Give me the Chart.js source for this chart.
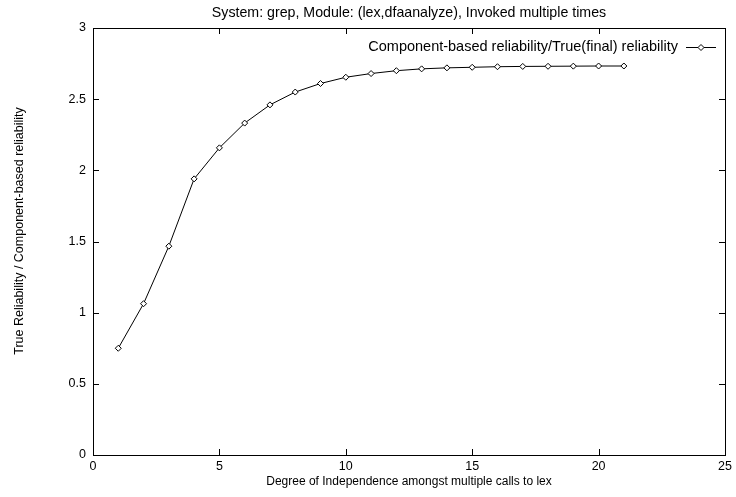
<!DOCTYPE html>
<html>
<head>
<meta charset="utf-8">
<script src="https://cdn.jsdelivr.net/npm/chart.js@4/dist/chart.umd.min.js"></script>
<style>
  html, body { margin: 0; padding: 0; background: #fff; }
  #wrap { width: 736px; height: 497px; }
</style>
</head>
<body>
<div id="wrap"><canvas id="chart"></canvas></div>
<script>
// values
const degrees = [1, 2, 3, 4, 5, 6, 7, 8, 9, 10, 11, 12, 13, 14, 15, 16, 17, 18, 19, 20, 21];
const ratios = [0.75, 1.063, 1.467, 1.94, 2.158, 2.332, 2.46, 2.55, 2.61, 2.654, 2.68,
  2.70, 2.713, 2.72, 2.724, 2.728, 2.73, 2.731, 2.732, 2.733, 2.733];
const xTicks = [0, 5, 10, 15, 20, 25];
const yTicks = [0, 0.5, 1, 1.5, 2, 2.5, 3];

const chartTitle = "System: grep, Module: (lex,dfaanalyze), Invoked multiple times";
const seriesLabel = "Component-based reliability/True(final) reliability";
const xLabel = "Degree of Independence amongst multiple calls to lex";
const yLabel = "True Reliability / Component-based reliability";

const FONT = "'Liberation Sans', Arial, Helvetica, sans-serif";

// gnuplot-style frame, inward mirrored ticks, title, y label and key
const framePlugin = {
  id: "frame",
  afterDraw(chart) {
    const { ctx, chartArea: a, scales } = chart;
    const tl = 6;
    ctx.save();
    ctx.strokeStyle = "#000";
    ctx.lineWidth = 1;
    ctx.strokeRect(a.left + 0.5, a.top + 0.5, a.right - a.left, a.bottom - a.top);
    ctx.beginPath();
    xTicks.forEach((v) => {
      const px = Math.round(scales.x.getPixelForValue(v)) + 0.5;
      ctx.moveTo(px, a.bottom);
      ctx.lineTo(px, a.bottom - tl);
      ctx.moveTo(px, a.top);
      ctx.lineTo(px, a.top + tl);
    });
    yTicks.forEach((v) => {
      const py = Math.round(scales.y.getPixelForValue(v)) + 0.5;
      ctx.moveTo(a.left, py);
      ctx.lineTo(a.left + tl, py);
      ctx.moveTo(a.right, py);
      ctx.lineTo(a.right - tl, py);
    });
    ctx.stroke();

    ctx.fillStyle = "#000";
    ctx.textBaseline = "middle";

    ctx.font = "14.2px " + FONT;
    ctx.textAlign = "center";
    ctx.fillText(chartTitle, (a.left + a.right) / 2, 13);

    // y axis label
    ctx.save();
    ctx.translate(20, 231);
    ctx.rotate(-Math.PI / 2);
    ctx.font = "12.5px " + FONT;
    ctx.fillText(yLabel, 0, 0);
    ctx.restore();

    // key
    const ky = 47;
    ctx.font = "14.5px " + FONT;
    ctx.textAlign = "right";
    ctx.fillText(seriesLabel, 678, ky);
    ctx.beginPath();
    ctx.moveTo(686, ky + 0.5);
    ctx.lineTo(716, ky + 0.5);
    ctx.stroke();
    const cx = 701, r = 3;
    ctx.beginPath();
    ctx.moveTo(cx, ky - r + 0.5);
    ctx.lineTo(cx + r, ky + 0.5);
    ctx.lineTo(cx, ky + r + 0.5);
    ctx.lineTo(cx - r, ky + 0.5);
    ctx.closePath();
    ctx.fillStyle = "#fff";
    ctx.fill();
    ctx.stroke();
    ctx.restore();
  },
};

new Chart(document.getElementById("chart"), {
  type: "line",
  data: {
    datasets: [
      {
        label: seriesLabel,
        data: degrees.map((d, i) => ({ x: d, y: ratios[i] })),
        borderColor: "#000",
        borderWidth: 1,
        backgroundColor: "#fff",
        pointStyle: "rectRot",
        pointRadius: 3,
        pointBorderWidth: 1,
        pointBorderColor: "#000",
        pointBackgroundColor: "#fff",
        tension: 0,
        fill: false,
      },
    ],
  },
  options: {
    responsive: true,
    maintainAspectRatio: false,
    animation: false,
    layout: { padding: { top: 28, right: 11, left: 0, bottom: 0 } },
    plugins: {
      legend: { display: false },
      title: { display: false },
      tooltip: { enabled: false },
    },
    scales: {
      x: {
        type: "linear",
        min: 0,
        max: 25,
        afterBuildTicks: (s) => { s.ticks = xTicks.map((v) => ({ value: v })); },
        afterFit: (s) => { s.height = 42; },
        grid: { display: false, drawTicks: false },
        border: { display: false },
        ticks: { color: "#000", font: { family: FONT, size: 12.5 }, padding: 4, maxRotation: 0,
          callback: (v) => String(v) },
        title: {
          display: true,
          text: xLabel,
          color: "#000",
          font: { family: FONT, size: 12 },
          padding: { top: 0, bottom: 8 },
        },
      },
      y: {
        min: 0,
        max: 3,
        afterBuildTicks: (s) => { s.ticks = yTicks.map((v) => ({ value: v })); },
        afterFit: (s) => { s.width = 93; },
        grid: { display: false, drawTicks: false },
        border: { display: false },
        ticks: { color: "#000", font: { family: FONT, size: 12.5 }, padding: 7,
          callback: (v) => String(v) },
        title: { display: false },
      },
    },
  },
  plugins: [framePlugin],
});
</script>
</body>
</html>
